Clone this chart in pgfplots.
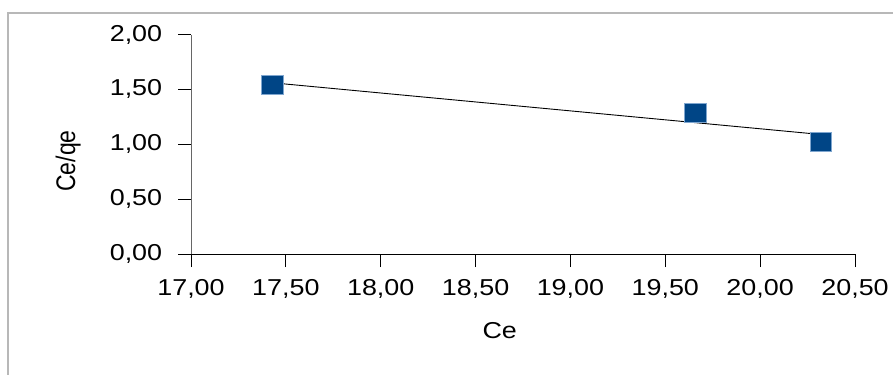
\documentclass[border=0pt]{standalone}
\usepackage{pgfplots}
\pgfplotsset{compat=1.18}
\usepackage{fontspec}
\setmainfont{Liberation Sans}
\definecolor{ptblue}{HTML}{004586}
\definecolor{ptedge}{HTML}{7FA6CF}
\begin{document}
\begin{tikzpicture}[x=1bp,y=1bp]
\useasboundingbox (0,0) rectangle (893,-374);
\draw[color=black!28, line width=1.2bp] (8,-380) -- (8,-13) -- (900,-13);
\begin{axis}[
  at={(191bp,-254bp)}, anchor=south west,
  scale only axis, width=664bp, height=219.5bp,
  xmin=17, xmax=20.5, ymin=0, ymax=2,
  xtick={17,17.5,18,18.5,19,19.5,20,20.5},
  ytick={0,0.5,1,1.5,2},
  axis x line*=bottom, axis y line*=left,
  x axis line style={black, line width=1bp, -},
  y axis line style={black!60, line width=1bp, -},
  tick align=outside, major tick length=13bp,
  tick style={black, line width=0.9bp},
  /pgf/number format/.cd, fixed, fixed zerofill, precision=2, use comma, assume math mode=true,
  /pgfplots/.cd,
  tick label style={font=\fontsize{23bp}{27bp}\selectfont, xscale=1.17},
  yticklabel style={xshift=-10bp},
  xticklabel style={yshift=-9bp},
  label style={font=\fontsize{23bp}{27bp}\selectfont},
  xlabel={Ce}, ylabel={Ce/qe},
  xlabel style={at={(axis description cs:0.465,-0.351)}, anchor=center, xscale=1.17},
  ylabel style={at={(axis description cs:-0.185,0.424)}, anchor=center, rotate=0, yscale=1.17},
  clip=false,
]
\addplot[only marks, mark=square*, mark size=9.5bp,
  mark options={fill=ptblue, draw=ptedge, line width=0.6bp, xscale=1.15}]
  coordinates {(17.43,1.539) (19.66,1.288) (20.32,1.018)};
\addplot[black, line width=0.9bp, no marks]
  coordinates {(17.43,1.560) (20.32,1.089)};
\end{axis}
\end{tikzpicture}
\end{document}
